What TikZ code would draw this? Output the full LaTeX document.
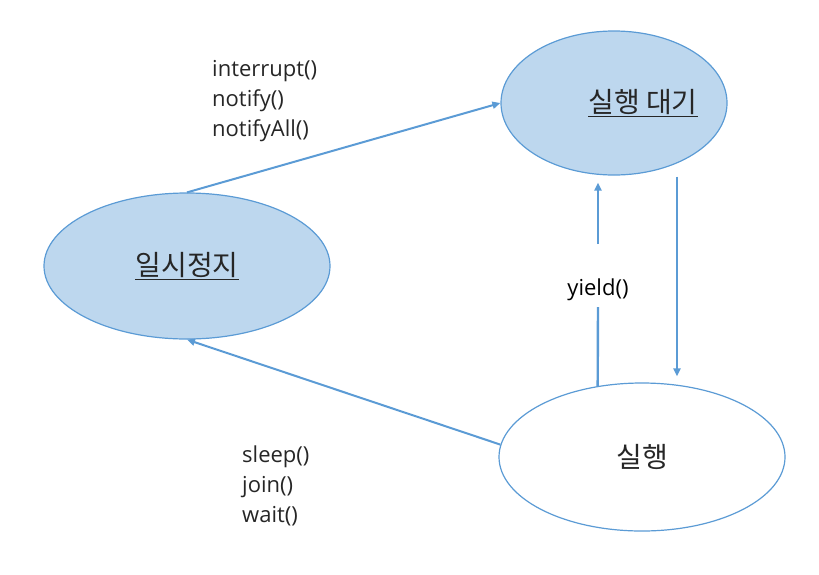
\documentclass[tikz,border=0pt]{standalone}
\usepackage{fontspec}
\setmainfont{Noto Sans CJK KR}
\newfontfamily\callfont{Open Sans}
\usetikzlibrary{arrows.meta,shapes.geometric}
\definecolor{statefill}{HTML}{BDD7EE}
\definecolor{stateline}{HTML}{5B9BD5}
\definecolor{ink}{HTML}{262626}
\tikzset{
  statenode/.style={
    ellipse,
    draw=stateline,
    line width=1.2pt,
    inner sep=0pt,
    text=ink,
    font=\fontsize{28}{30}\selectfont
  },
  statetext/.style={inner sep=0pt,text=ink,font=\fontsize{28}{30}\selectfont},
  calllabel/.style={
    align=left,
    anchor=west,
    inner sep=0pt,
    text=ink,
    font=\callfont\fontsize{22}{30}\selectfont
  },
  transarrow/.style={-{Triangle[length=8pt,width=7pt]},line width=2pt,draw=stateline}
}

\begin{document}
\begin{tikzpicture}[x=1pt,y=-1pt]
\useasboundingbox (0,0) rectangle (819,574);
\node[statenode,fill=statefill,minimum width=226pt,minimum height=144pt] (ready) at (614,103) {};
\node[statetext] (readytext) at (643,103) {\underline{실행 대기}};
\node[statenode,fill=statefill,minimum width=286pt,minimum height=146pt] (paused) at (187,266) {\underline{일시정지}};
\node[statenode,fill=white,minimum width=286pt,minimum height=148pt] (running) at (642,457) {실행};
\node[calllabel] (wakecalls) at (212,101) {interrupt()\\notify()\\notifyAll()};
\node[calllabel] (blockcalls) at (242,486) {sleep()\\join()\\wait()};
\node[calllabel,anchor=center,text=black] (yieldcall) at (598,290) {yield()};
\coordinate (yieldlow) at (598,307);
\coordinate (yieldhigh) at (598,244);
\draw[transarrow] (paused.north) -- (ready.west);
\draw[transarrow] (running.175) -- (paused.south);
\draw[stateline,line width=2.4pt] (running.122.7) -- (yieldlow);
\draw[transarrow,line width=2.4pt,shorten >=7pt] (yieldhigh) -- (ready.south -| yieldhigh);
\draw[transarrow,line width=2.4pt,shorten <=1pt,shorten >=6pt] ([xshift=63pt]ready.south) -- ([xshift=35pt]running.north);
\end{tikzpicture}
\end{document}
